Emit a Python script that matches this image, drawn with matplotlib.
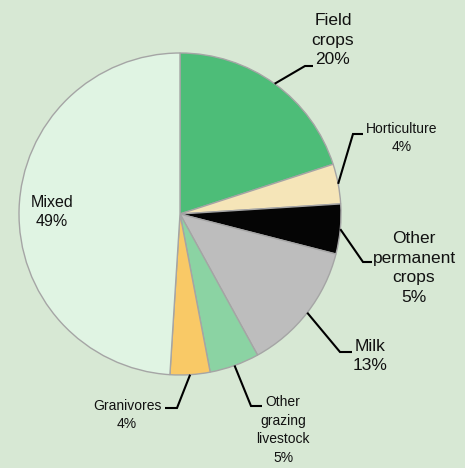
"""
Farm types share pie chart
"""

import numpy as np
import matplotlib.pyplot as plt

plt.rcParams['font.family'] = ['Liberation Sans', 'DejaVu Sans']

# Data
labels = ['Field\ncrops', 'Horticulture', 'Other\npermanent\ncrops', 'Milk',
          'Other\ngrazing\nlivestock', 'Granivores', 'Mixed']
shares = [20, 4, 5, 13, 5, 4, 49]
colors = ['#4dbd78', '#f5e5b8', '#050505', '#bdbdbd', '#8bd3a3', '#f9c966', '#e0f4e3']

# Layout in pixels (figure is 465x468, pie centre and radius)
W, H = 465, 468
cx, cy, R = 180, 214, 161

# label text centre, elbow point, end of horizontal leader, font size
label_layout = [
    ((333, 40), (305, 66), (313, 66), 12.5),
    ((402, 138), (353, 134), (363, 134), 10),
    ((414, 268), (363, 262), (372, 262), 12.5),
    ((370, 356), (340, 352), (352, 352), 12.5),
    ((283, 430), (251, 406), (262, 406), 10),
    ((127, 415), (177, 408), (165, 408), 10),
    ((52, 212), None, None, 11.5),
]


def px(x, y):
    # pixel position -> data coordinates (pie radius = 1)
    return (x - cx) / R, (cy - y) / R


fig = plt.figure(figsize=(W / 100, H / 100), dpi=100)
fig.patch.set_facecolor('#d7e8d4')
ax = fig.add_axes([0, 0, 1, 1])
ax.set_facecolor('#d7e8d4')

wedges, _ = ax.pie(shares, colors=colors, startangle=90, counterclock=False,
                   radius=1, wedgeprops=dict(edgecolor='#a5a5a5', linewidth=1))

ax.set_xlim(-cx / R, (W - cx) / R)
ax.set_ylim(-(H - cy) / R, cy / R)
ax.set_aspect('equal')
ax.axis('off')

for i, (wedge, lab, share) in enumerate(zip(wedges, labels, shares)):
    (tx, ty), elbow, end, fs = label_layout[i]
    x, y = px(tx, ty)
    ax.text(x, y, f'{lab}\n{share}%', ha='center', va='center', fontsize=fs,
            color='#111111', linespacing=1.4)
    if elbow is None:
        continue
    ang = np.deg2rad((wedge.theta1 + wedge.theta2) / 2)
    ex, ey = np.cos(ang), np.sin(ang)
    bx, by = px(*elbow)
    hx, hy = px(*end)
    ax.plot([ex, bx, hx], [ey, by, hy], color='black', linewidth=1.5,
            solid_capstyle='butt', solid_joinstyle='miter')

fig.savefig('out.png', dpi=100, facecolor=fig.get_facecolor())
